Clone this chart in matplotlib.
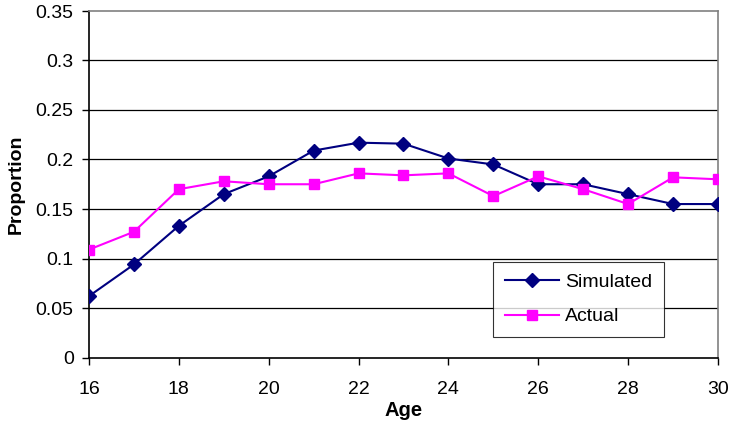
import matplotlib

matplotlib.use("Agg")
import matplotlib.pyplot as plt

plt.rcParams["font.family"] = ["Liberation Sans", "DejaVu Sans"]

# Data
ages = [16, 17, 18, 19, 20, 21, 22, 23, 24, 25, 26, 27, 28, 29, 30]
simulated = [0.062, 0.094, 0.133, 0.165, 0.183, 0.209, 0.217, 0.216,
             0.201, 0.195, 0.175, 0.175, 0.165, 0.155, 0.155]
actual = [0.109, 0.127, 0.170, 0.178, 0.175, 0.175, 0.186, 0.184,
          0.186, 0.163, 0.183, 0.170, 0.155, 0.182, 0.180]
x_ticks = [16, 18, 20, 22, 24, 26, 28, 30]
y_ticks = [0, 0.05, 0.1, 0.15, 0.2, 0.25, 0.3, 0.35]
y_labels = ["0", "0.05", "0.1", "0.15", "0.2", "0.25", "0.3", "0.35"]

fig = plt.figure(figsize=(7.32, 4.23), dpi=100)
ax = fig.add_axes([89 / 732, 1 - 357.5 / 423, (718 - 89) / 732, (357.5 - 11) / 423])

# Horizontal gridlines
for v in y_ticks[1:-1]:
    ax.axhline(v, color="#000000", lw=0.9, zorder=1)

ax.plot(ages, simulated, color="#000080", lw=1.5, marker="D", markersize=7,
        label="Simulated", zorder=3)
ax.plot(ages, actual, color="#FF00FF", lw=1.5, marker="s", markersize=7.7,
        label="Actual", zorder=3)

ax.set_xlim(16, 30)
ax.set_ylim(0, 0.35)
ax.set_xticks(x_ticks)
ax.set_yticks(y_ticks)
ax.set_yticklabels(y_labels)
ax.tick_params(axis="both", direction="out", length=5, width=1, labelsize=14,
               colors="black")
ax.tick_params(axis="x", pad=12)
ax.tick_params(axis="y", pad=6)

ax.spines["left"].set_color("black")
ax.spines["bottom"].set_color("black")
ax.spines["left"].set_linewidth(1.2)
ax.spines["bottom"].set_linewidth(1.2)
ax.spines["right"].set_color("#808080")
ax.spines["top"].set_color("#808080")
ax.spines["right"].set_linewidth(1.2)
ax.spines["top"].set_linewidth(1.2)

ax.set_xlabel("Age", fontsize=14.5, fontweight="bold", labelpad=2)
ax.set_ylabel("Proportion", fontsize=14, fontweight="bold", labelpad=8)

leg = ax.legend(loc="upper left", bbox_to_anchor=((493 - 89) / 629, 1 - (262 - 11) / 346.5),
                borderaxespad=0, fontsize=14, frameon=True, fancybox=False,
                edgecolor="black", borderpad=0.6, handlelength=2.8,
                handletextpad=0.3, labelspacing=0.85)
leg.get_frame().set_linewidth(0.8)

fig.savefig("out.png", dpi=100)
